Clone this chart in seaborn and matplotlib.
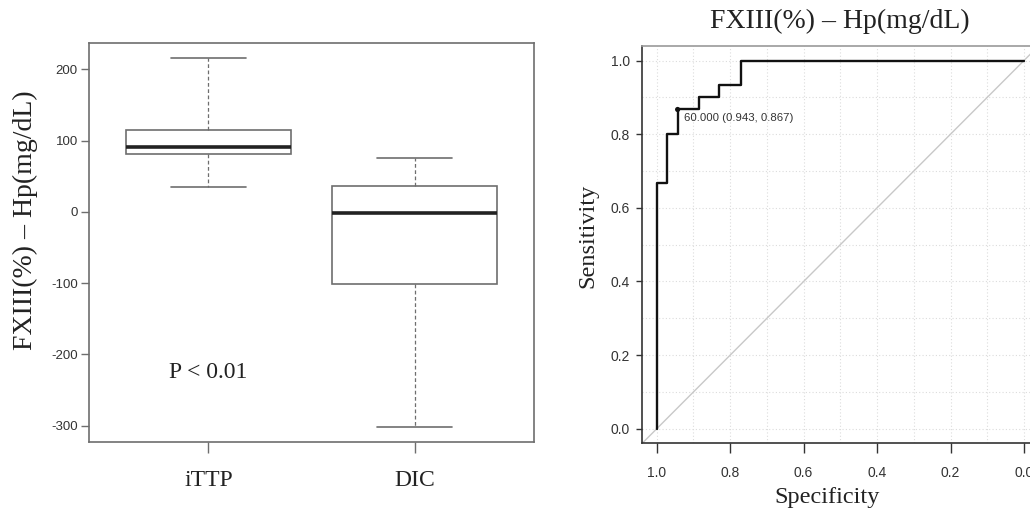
import numpy as np
import pandas as pd
import matplotlib
matplotlib.use("Agg")
import matplotlib.pyplot as plt
from matplotlib.ticker import MultipleLocator
import seaborn as sns

# ---------------- data ----------------
groups = ["iTTP", "DIC"]
# five-number summaries: min, Q1, median, Q3, max
ittp_values = [35, 81, 91, 115, 216]
dic_values = [-302, -101, -2, 36, 76]
y_ticks = [-300, -200, -100, 0, 100, 200]
p_text = "P < 0.01"

# ROC curve points (specificity, sensitivity)
roc_specificity = [1.0, 1.0, 0.971, 0.971, 0.943, 0.943, 0.886, 0.886, 0.829, 0.829, 0.771, 0.771, 0.0]
roc_sensitivity = [0.0, 0.667, 0.667, 0.8, 0.8, 0.867, 0.867, 0.9, 0.9, 0.933, 0.933, 1.0, 1.0]
best_threshold = 60.0
best_spec = 0.943
best_sens = 0.867
roc_ticks = [0.0, 0.2, 0.4, 0.6, 0.8, 1.0]
title = "FXIII(%) \u2013 Hp(mg/dL)"

# ---------------- style ----------------
sns.set_style("ticks")
plt.rcParams["font.family"] = ["Liberation Sans", "DejaVu Sans"]
SERIF = ["Liberation Serif", "DejaVu Serif"]

W, H = 1030, 512
fig = plt.figure(figsize=(W / 100, H / 100), dpi=100)

def px_axes(l, t, r, b):
    return fig.add_axes([l / W, 1 - b / H, (r - l) / W, (b - t) / H])

# ---------------- left: boxplot ----------------
ax1 = px_axes(89, 43, 534, 442)
df = pd.DataFrame({
    "group": [groups[0]] * len(ittp_values) + [groups[1]] * len(dic_values),
    "value": ittp_values + dic_values,
})
box_grey = "#6e6e6e"
sns.boxplot(
    data=df, x="group", y="value", order=groups, ax=ax1,
    whis=(0, 100), width=0.8, showfliers=False,
    color="white", linecolor=box_grey, linewidth=1.2,
    medianprops=dict(color="#222222", linewidth=2.6),
    whiskerprops=dict(color=box_grey, linestyle=(0, (3, 2)), linewidth=0.9),
    capprops=dict(color=box_grey, linewidth=1.2),
    capwidths=0.36,
)
ax1.set_xlim(-0.58, 1.58)
ax1.set_ylim(-322.7, 236.7)
ax1.set_yticks(y_ticks)
ax1.set_yticklabels([str(v) for v in y_ticks], fontsize=9.5, color="#333333")
ax1.tick_params(axis="y", length=6, width=1, color=box_grey, pad=2)
ax1.tick_params(axis="x", length=8, width=1, color=box_grey, pad=12, labelsize=17)
for lab in ax1.get_xticklabels():
    lab.set_fontfamily(SERIF)
    lab.set_color("#222222")
for s in ax1.spines.values():
    s.set_visible(True)
    s.set_color(box_grey)
    s.set_linewidth(1.2)
ax1.set_xlabel("")
ax1.set_ylabel(title, fontsize=20, family=SERIF, color="#222222", va="center")
ax1.yaxis.set_label_coords((25 - 89) / 445, (442 - 220.5) / 399)
ax1.text(0, -225, p_text, fontsize=17, family=SERIF, color="#222222",
         ha="center", va="center")

# ---------------- right: ROC ----------------
ax2 = px_axes(641.7, 46, 1039, 443.3)
roc_df = pd.DataFrame({"specificity": roc_specificity, "sensitivity": roc_sensitivity})
ax2.axline((1, 0), (0, 1), color="#c8c8c8", linewidth=1.0, zorder=1)
sns.lineplot(data=roc_df, x="specificity", y="sensitivity", sort=False,
             estimator=None, color="#111111", linewidth=1.7, ax=ax2, zorder=3)
sns.scatterplot(x=[best_spec], y=[best_sens], color="#111111", s=14,
                edgecolor="none", ax=ax2, zorder=4)
ax2.annotate(f"{best_threshold:.3f} ({best_spec:.3f}, {best_sens:.3f})",
             xy=(best_spec, best_sens), xytext=(6, -9), textcoords="offset pixels",
             fontsize=8.2, color="#333333", ha="left", va="center")
ax2.set_xlim(1.0408, -0.0408)
ax2.set_ylim(-0.0394, 1.0394)
ax2.set_xticks(roc_ticks)
ax2.set_yticks(roc_ticks)
ax2.set_xticklabels([f"{v:.1f}" for v in roc_ticks], fontsize=10, color="#333333")
ax2.set_yticklabels([f"{v:.1f}" for v in roc_ticks], fontsize=10, color="#333333")
ax2.xaxis.set_minor_locator(MultipleLocator(0.1))
ax2.yaxis.set_minor_locator(MultipleLocator(0.1))
ax2.grid(which="both", color="#dcdcdc", linestyle=(0, (1, 2)), linewidth=0.8)
ax2.set_axisbelow(True)
ax2.tick_params(which="minor", length=0)
ax2.tick_params(axis="y", which="major", length=4.5, width=1, color="#333333", pad=4)
ax2.tick_params(axis="x", which="major", length=7, width=1, color="#333333", pad=9)
ax2.spines["left"].set_color("#333333")
ax2.spines["bottom"].set_color("#333333")
ax2.spines["top"].set_color("#9a9a9a")
ax2.spines["right"].set_color("#9a9a9a")
for s in ax2.spines.values():
    s.set_visible(True)
    s.set_linewidth(1.2)
ax2.set_xlabel("Specificity", fontsize=17.5, family=SERIF, color="#222222", va="center")
ax2.xaxis.set_label_coords((826.7 - 641.7) / 397.3, (443.3 - 498) / 397.3)
ax2.set_ylabel("Sensitivity", fontsize=17.5, family=SERIF, color="#222222", va="center")
ax2.yaxis.set_label_coords((588 - 641.7) / 397.3, (443.3 - 236) / 397.3)
ax2.set_title(title, fontsize=20, family=SERIF, color="#222222", va="center",
              x=(839.5 - 641.7) / 397.3, y=(443.3 - 21.7) / 397.3, pad=0)

fig.savefig("out.png", dpi=100)
